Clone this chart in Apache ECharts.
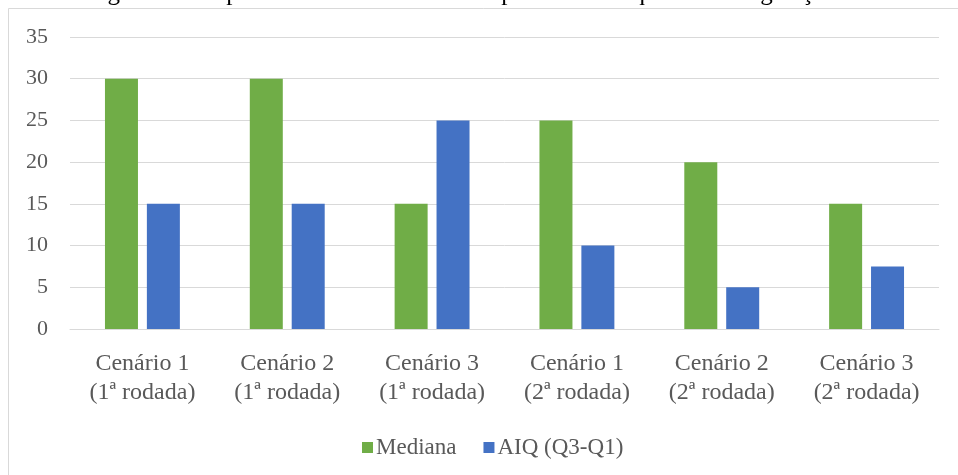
<!DOCTYPE html>
<html>
<head>
<meta charset="utf-8">
<script src="https://cdn.jsdelivr.net/npm/echarts@6/dist/echarts.min.js"></script>
<style>
html,body{margin:0;padding:0;background:#fff;}
#chart{width:958px;height:475px;}
</style>
</head>
<body>
<div id="chart"></div>
<script>
const categories = ['Cenário 1\n(1ª rodada)','Cenário 2\n(1ª rodada)','Cenário 3\n(1ª rodada)','Cenário 1\n(2ª rodada)','Cenário 2\n(2ª rodada)','Cenário 3\n(2ª rodada)'];
const mediana = [30, 30, 15, 25, 20, 15];
const aiq = [15, 15, 25, 10, 5, 7.5];
const yTicks = {min: 0, max: 35, interval: 5};
const titleText = 'Análise gráfica comparativa das medianas e amplitudes interquartis da vegetação';

const FONT = '"Liberation Serif", "Times New Roman", serif';
const chart = echarts.init(document.getElementById('chart'), null, {renderer: 'canvas'});
chart.setOption({
  backgroundColor: '#ffffff',
  animation: false,
  graphic: [
    {type: 'rect', shape: {x: 8.5, y: 8.5, width: 1000, height: 500}, style: {fill: 'none', stroke: '#d9d9d9', lineWidth: 1}, z: -1},
    {type: 'text', left: 25, top: -19, style: {text: titleText, font: '25px ' + FONT, fill: '#000'}}
  ],
  grid: {left: 70, right: 19, top: 37, bottom: 146, containLabel: false},
  legend: {
    left: 357, top: 431,
    itemWidth: 11, itemHeight: 11, itemGap: 27,
    icon: 'rect',
    textStyle: {fontFamily: FONT, fontSize: 23, color: '#595959', padding: [0, 0, 0, -2]},
    data: ['Mediana', 'AIQ (Q3-Q1)']
  },
  xAxis: {
    type: 'category',
    data: categories,
    axisLine: {lineStyle: {color: '#d9d9d9', width: 1}},
    axisTick: {show: false},
    axisLabel: {interval: 0, margin: 20, fontFamily: FONT, fontSize: 24, color: '#595959', lineHeight: 29}
  },
  yAxis: {
    type: 'value',
    min: yTicks.min, max: yTicks.max, interval: yTicks.interval,
    axisLine: {show: false},
    axisTick: {show: false},
    splitLine: {lineStyle: {color: '#d9d9d9', width: 1}},
    axisLabel: {margin: 22, fontFamily: FONT, fontSize: 22, color: '#595959'}
  },
  series: [
    {name: 'Mediana', type: 'bar', data: mediana, barWidth: 33, barGap: '27%', itemStyle: {color: '#70AD47'}},
    {name: 'AIQ (Q3-Q1)', type: 'bar', data: aiq, barWidth: 33, itemStyle: {color: '#4472C4'}}
  ]
});
</script>
</body>
</html>
